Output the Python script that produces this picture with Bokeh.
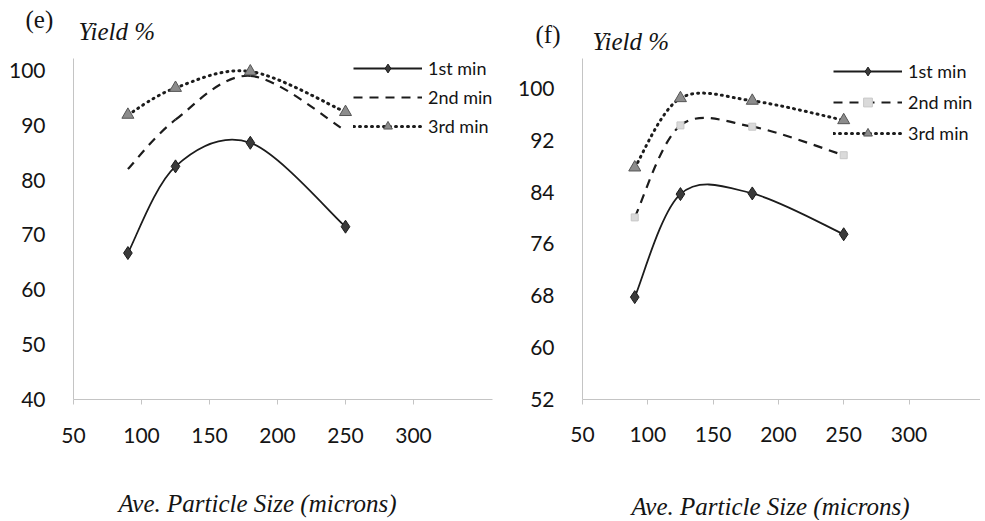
from bokeh.plotting import figure
from bokeh.models import Label, Legend, LegendItem, FixedTicker, Range1d
from bokeh.layouts import row, column
from bokeh.embed import file_html
from bokeh.resources import INLINE

# ---------------- data ----------------
particle_size = [90, 125, 180, 250]

e_first = [66.7, 82.5, 86.8, 71.5]
e_second = [82.0, 91.0, 99.0, 89.0]
e_third = [91.9, 96.8, 99.8, 92.4]

f_first = [67.8, 83.7, 83.8, 77.5]
f_second = [80.1, 94.3, 94.1, 89.7]
f_third = [87.8, 98.5, 98.1, 95.1]

x_ticks = [50, 100, 150, 200, 250, 300]
e_y_ticks = [40, 50, 60, 70, 80, 90, 100]
f_y_ticks = [52, 60, 68, 76, 84, 92, 100]

series_names = ["1st min", "2nd min", "3rd min"]
panel_tags = ["(e)", "(f)"]
y_title = "Yield %"
x_title = "Ave. Particle Size (microns)"

TICK_FONT = "Lato"
SERIF = "Liberation Serif"
AXIS_GRAY = "#c4c4c4"
INK = "#141414"
TOTAL_W = 980
HEAD_H = 56
MAIN_H = 404
FOOT_H = 60


def smooth_segments(xs, ys):
    """Cubic bezier pieces through the data points (spreadsheet-style smoothed line)."""
    n = len(xs)
    out = dict(x0=[], y0=[], x1=[], y1=[], cx0=[], cy0=[], cx1=[], cy1=[])
    for i in range(n - 1):
        ip = max(i - 1, 0)
        inn = min(i + 2, n - 1)
        out["x0"].append(xs[i]); out["y0"].append(ys[i])
        out["x1"].append(xs[i + 1]); out["y1"].append(ys[i + 1])
        out["cx0"].append(xs[i] + (xs[i + 1] - xs[ip]) / 6.0)
        out["cy0"].append(ys[i] + (ys[i + 1] - ys[ip]) / 6.0)
        out["cx1"].append(xs[i + 1] - (xs[inn] - xs[i]) / 6.0)
        out["cy1"].append(ys[i + 1] - (ys[inn] - ys[i]) / 6.0)
    return out


def text_strip(height, top):
    """A plain strip (no axes) whose data coordinates equal page pixels, for free text."""
    s = figure(width=TOTAL_W, height=height, output_backend="svg", toolbar_location=None,
               x_range=Range1d(0, TOTAL_W), y_range=Range1d(top + height, top),
               x_axis_type=None, y_axis_type=None,
               min_border_left=0, min_border_right=0, min_border_top=0, min_border_bottom=0)
    s.outline_line_color = None
    s.xgrid.visible = False
    s.ygrid.visible = False
    s.background_fill_color = "white"
    s.border_fill_color = "white"
    return s


def make_panel(width, border_left, border_right, border_top, border_bottom, x_end,
               y_start, y_end, y_ticks, first, second, third, second_markers,
               legend_loc, legend_spacing, x_label_standoff):
    p = figure(width=width, height=MAIN_H, output_backend="svg", toolbar_location=None,
               x_range=(50, x_end), y_range=(y_start, y_end),
               min_border_left=border_left, min_border_right=border_right,
               min_border_top=border_top, min_border_bottom=border_bottom)
    p.outline_line_color = None
    p.background_fill_color = "white"
    p.border_fill_color = "white"
    p.xgrid.visible = False
    p.ygrid.visible = False

    for ax in (p.xaxis[0], p.yaxis[0]):
        ax.axis_line_color = AXIS_GRAY
        ax.axis_line_width = 1
        ax.major_tick_line_color = AXIS_GRAY
        ax.minor_tick_line_color = None
        ax.major_label_text_font = TICK_FONT
        ax.major_label_text_font_size = "21px"
        ax.major_label_text_color = INK
    p.xaxis.ticker = FixedTicker(ticks=x_ticks)
    p.yaxis.ticker = FixedTicker(ticks=y_ticks)
    p.xaxis.major_tick_in = 0
    p.xaxis.major_tick_out = 5
    p.xaxis.major_label_standoff = x_label_standoff
    p.yaxis.major_tick_in = 0
    p.yaxis.major_tick_out = 0
    p.yaxis.major_label_standoff = 28

    # series 1: solid with dark diamonds
    s1 = p.bezier(source=smooth_segments(particle_size, first), x0="x0", y0="y0",
                  x1="x1", y1="y1", cx0="cx0", cy0="cy0", cx1="cx1", cy1="cy1",
                  line_color="#1c1c1c", line_width=1.8)
    m1 = p.scatter(particle_size, first, marker="diamond", size=13,
                   fill_color="#3a3a3a", line_color="#1c1c1c", line_width=1)
    # series 2: dashed
    s2 = p.bezier(source=smooth_segments(particle_size, second), x0="x0", y0="y0",
                  x1="x1", y1="y1", cx0="cx0", cy0="cy0", cx1="cx1", cy1="cy1",
                  line_color="#1c1c1c", line_width=2.2, line_dash="9 7")
    r2 = [s2]
    if second_markers:
        m2 = p.scatter(particle_size, second, marker="square", size=7,
                       fill_color="#dadada", line_color="#c8c8c8", line_width=1)
        r2.append(m2)
    # series 3: dotted with gray triangles
    s3 = p.bezier(source=smooth_segments(particle_size, third), x0="x0", y0="y0",
                  x1="x1", y1="y1", cx0="cx0", cy0="cy0", cx1="cx1", cy1="cy1",
                  line_color="#1c1c1c", line_width=3, line_dash="1 5", line_cap="round")
    m3 = p.scatter(particle_size, third, marker="triangle", size=12,
                   fill_color="#8c8c8c", line_color="#555555", line_width=1)

    legend = Legend(items=[
        LegendItem(label=series_names[0], renderers=[s1, m1]),
        LegendItem(label=series_names[1], renderers=r2),
        LegendItem(label=series_names[2], renderers=[s3, m3]),
    ], location=legend_loc)
    legend.background_fill_alpha = 0
    legend.border_line_color = None
    legend.padding = 0
    legend.margin = 0
    legend.spacing = legend_spacing
    legend.glyph_width = 69
    legend.glyph_height = 22
    legend.label_height = 22
    legend.label_standoff = 6
    legend.label_text_font = TICK_FONT
    legend.label_text_font_size = "18px"
    legend.label_text_color = INK
    p.add_layout(legend)
    return p


# panel (e): frame 73..492 px wide (1.36 px/micron), 58..403 px high (5.55 px/%)
pe = make_panel(width=500, border_left=73, border_right=8, border_top=2,
                border_bottom=HEAD_H + MAIN_H - 403,
                x_end=50 + 419 / 1.36, y_start=40, y_end=40 + 345 / 5.55,
                y_ticks=e_y_ticks, first=e_first, second=e_second, third=e_third,
                second_markers=False, legend_loc=(280, 262), legend_spacing=7,
                x_label_standoff=23)

# panel (f): frame 582..980 px (1.306 px/micron), 58..399 px (6.48 px/%)
pf = make_panel(width=TOTAL_W - 500, border_left=82, border_right=0, border_top=2,
                border_bottom=HEAD_H + MAIN_H - 399,
                x_end=50 + 398 / 1.306, y_start=52, y_end=52 + 341 / 6.48,
                y_ticks=f_y_ticks, first=f_first, second=f_second, third=f_third,
                second_markers=True, legend_loc=(251, 255), legend_spacing=9,
                x_label_standoff=22)

# header strip: panel tags and y titles
head = text_strip(HEAD_H, 0)
head.add_layout(Label(x=25, y=19, text=panel_tags[0], text_font=SERIF, text_font_size="25px",
                      text_baseline="middle", text_align="left", text_color=INK))
head.add_layout(Label(x=78, y=31, text=y_title, text_font=SERIF, text_font_style="italic",
                      text_font_size="25px", text_baseline="middle", text_align="left",
                      text_color=INK))
head.add_layout(Label(x=535, y=34, text=panel_tags[1], text_font=SERIF, text_font_size="25px",
                      text_baseline="middle", text_align="left", text_color=INK))
head.add_layout(Label(x=592, y=41, text=y_title, text_font=SERIF, text_font_style="italic",
                      text_font_size="25px", text_baseline="middle", text_align="left",
                      text_color=INK))

# footer strip: x titles
foot = text_strip(FOOT_H, HEAD_H + MAIN_H)
foot.add_layout(Label(x=257, y=503, text=x_title, text_font=SERIF, text_font_style="italic",
                      text_font_size="25px", text_baseline="middle", text_align="center",
                      text_color=INK))
foot.add_layout(Label(x=770, y=506, text=x_title, text_font=SERIF, text_font_style="italic",
                      text_font_size="25px", text_baseline="middle", text_align="center",
                      text_color=INK))

layout = column(head, row(pe, pf), foot)
open("out.html", "w").write(file_html(layout, INLINE))
